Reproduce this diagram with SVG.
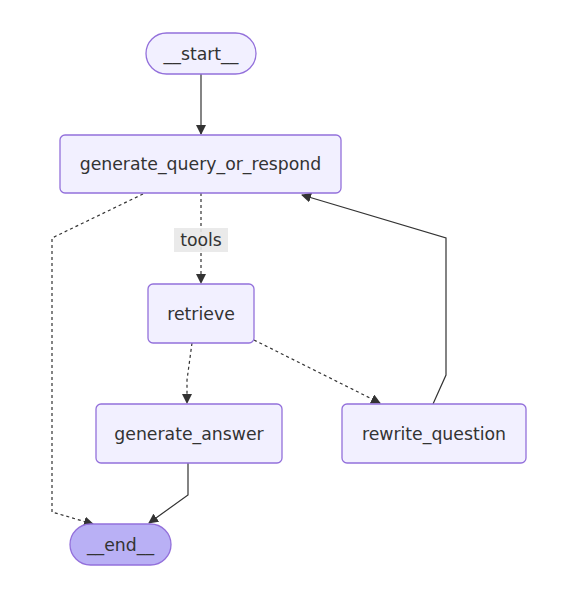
<svg xmlns="http://www.w3.org/2000/svg" width="564" height="594" viewBox="0 0 564 594">
<defs>
<marker id="ah" viewBox="0 0 10 10" refX="9" refY="5" markerWidth="10" markerHeight="10" markerUnits="userSpaceOnUse" orient="auto">
<path d="M0,0 L10,5 L0,10 z" fill="#333"/>
</marker>
<style>
.node rect{fill:#f2f0ff;stroke:#9370db;stroke-width:1.3}
.node.endn rect{fill:#b9b0f5}
text{font-family:"DejaVu Sans",sans-serif;font-size:17.3px;fill:#333;text-anchor:middle;dominant-baseline:central}
.e{fill:none;stroke:#333;stroke-width:1.2}
.d{stroke-dasharray:3,3}
</style>
</defs>
<rect width="564" height="594" fill="#fff"/>
<g id="edges">
<path class="e" d="M201,74 L201,134" marker-end="url(#ah)"/>
<path class="e d" d="M143,194 L52,238 L52,512 L93,524" marker-end="url(#ah)"/>
<path class="e d" d="M201,193 L201,283" marker-end="url(#ah)"/>
<path class="e d" d="M192,343 L187,380 L187,403" marker-end="url(#ah)"/>
<path class="e d" d="M254,340 L380,403" marker-end="url(#ah)"/>
<path class="e" d="M433,404 L446,375 L446,238 L302,195" marker-end="url(#ah)"/>
<path class="e" d="M188,463 L188,495 L149,523" marker-end="url(#ah)"/>
<g id="label-tools">
<rect x="174" y="228" width="54" height="24" fill="#e8e8e8" opacity="0.9"/>
<text x="201" y="240">tools</text>
</g>
</g>
<g id="start" class="node"><rect x="146" y="33" width="110" height="41" rx="20.5"/><text x="201" y="53.5">__start__</text></g>
<g id="generate_query_or_respond" class="node"><rect x="60" y="135" width="281" height="58" rx="5"/><text x="200.5" y="164">generate_query_or_respond</text></g>
<g id="retrieve" class="node"><rect x="148" y="284" width="106" height="59" rx="5"/><text x="201" y="313.5">retrieve</text></g>
<g id="generate_answer" class="node"><rect x="96" y="404" width="186" height="59" rx="5"/><text x="189" y="433.5">generate_answer</text></g>
<g id="rewrite_question" class="node"><rect x="342" y="404" width="184" height="59" rx="5"/><text x="434" y="433.5">rewrite_question</text></g>
<g id="end" class="node endn"><rect x="70" y="524" width="101" height="41" rx="20.5"/><text x="120.5" y="544.5">__end__</text></g>
</svg>
